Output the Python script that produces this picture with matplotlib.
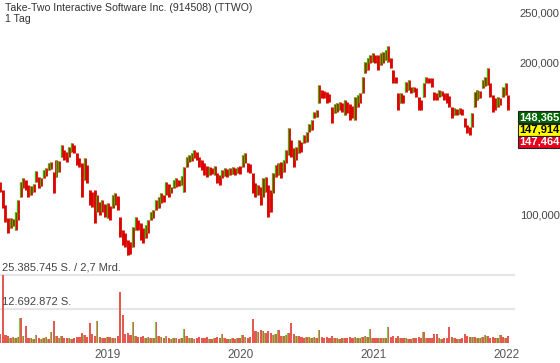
import numpy as np
import pandas as pd
import matplotlib
matplotlib.use("Agg")
import matplotlib.pyplot as plt
from matplotlib.ticker import FixedLocator, FixedFormatter, NullLocator
from matplotlib.patches import Rectangle

plt.rcParams['font.family'] = ['Liberation Sans', 'DejaVu Sans']

title = "Take-Two Interactive Software Inc. (914508) (TTWO)"
interval = "1 Tag"
week_start = "2018-03-14"

# weekly high / low (price)
high = [116.2,112.0,104.6,98.6,98.6,98.2,101.4,107.0,116.2,118.3,
        117.2,114.6,114.1,115.1,122.1,118.8,118.3,122.6,123.7,126.6,
        127.1,121.5,128.3,127.7,137.3,134.2,133.0,136.1,138.6,137.3,
        132.4,129.4,126.6,129.4,125.4,112.0,111.0,112.0,109.5,106.1,
        107.0,105.1,105.6,104.2,109.5,110.5,109.0,99.1,93.4,92.2,
        89.3,88.5,94.7,99.1,97.8,96.5,94.3,95.6,97.8,101.4,
        102.3,107.0,108.5,110.5,109.5,116.2,115.1,113.6,117.2,118.3,
        117.2,119.4,124.3,130.0,131.2,132.4,134.2,133.0,130.0,128.3,
        126.6,124.8,124.3,123.7,124.8,121.0,119.9,122.6,123.7,123.2,
        123.7,124.3,123.7,124.3,124.8,131.2,132.4,126.6,126.0,121.0,
        115.6,114.6,113.6,118.3,118.8,114.6,112.0,121.0,125.4,126.6,
        127.1,128.3,134.2,148.3,140.5,135.5,136.1,140.5,139.2,143.7,
        145.7,151.0,153.8,159.4,160.9,180.2,176.2,175.4,174.6,173.0,
        163.1,165.4,166.1,166.9,166.1,168.4,166.9,165.4,163.9,170.7,
        172.3,173.8,186.9,200.1,203.7,206.5,208.4,206.5,206.5,208.4,
        209.3,211.2,215.1,203.7,192.9,186.9,173.8,173.8,172.3,182.7,
        184.4,178.6,178.6,177.8,170.7,168.4,181.9,186.9,186.1,186.1,
        174.6,173.8,176.2,175.4,173.8,173.8,171.5,163.1,162.4,161.6,
        162.4,161.6,155.2,150.4,149.0,158.7,174.6,176.2,175.4,184.4,
        186.9,194.7,181.9,172.3,169.9,170.7,169.9,178.6,181.9,172.3]

low = [111.0,103.2,96.9,92.2,94.3,95.2,93.4,97.8,108.5,113.1,
       112.0,108.5,109.5,111.0,116.2,113.1,114.1,118.3,119.4,122.6,
       123.2,110.5,118.8,121.5,130.0,128.3,127.1,130.0,133.0,132.4,
       125.4,124.3,108.5,117.2,115.6,104.6,103.7,96.5,101.4,100.0,
       101.4,99.1,98.6,97.8,103.2,104.6,102.3,90.5,87.3,86.5,
       83.4,83.8,86.5,93.4,93.4,89.3,88.1,90.1,92.2,97.8,
       98.6,102.3,103.2,105.6,106.1,109.5,108.5,110.5,113.1,113.6,
       114.1,114.6,111.0,124.3,127.1,127.7,129.4,128.3,124.3,122.6,
       119.9,118.8,119.9,120.4,119.9,115.6,114.6,118.3,119.4,118.8,
       119.9,120.4,119.9,121.0,120.4,124.3,126.6,121.5,121.0,110.5,
       108.5,109.5,104.6,108.5,111.0,99.1,101.4,110.5,118.8,119.9,
       118.3,121.5,126.6,131.2,130.0,124.3,128.3,132.4,133.0,138.6,
       139.2,145.7,147.0,155.2,155.9,166.1,169.9,169.9,166.1,166.9,
       151.7,158.7,159.4,160.9,159.4,157.3,158.7,153.8,155.2,153.8,
       163.1,166.1,173.8,190.3,192.9,199.2,200.1,199.2,192.9,197.4,
       199.2,201.9,200.1,194.7,181.9,181.9,160.9,166.1,166.1,174.6,
       176.2,173.8,174.6,170.7,160.9,160.9,170.7,181.9,181.9,178.6,
       168.4,168.4,170.7,171.5,168.4,166.1,163.1,155.2,157.3,157.3,
       158.0,157.3,149.0,145.0,143.7,149.0,163.1,168.4,169.9,177.8,
       179.4,180.2,170.7,159.4,160.9,163.1,164.6,170.7,172.3,160.9]

# volume (million shares)
volume_m = [3.5,25.39,3.0,2.5,2.0,2.2,1.8,2.4,9.3,2.6,
            6.3,2.0,1.8,1.6,3.0,1.7,1.5,1.9,2.2,1.6,
            4.1,8.2,2.8,2.0,2.5,1.8,1.7,2.0,1.6,1.9,
            2.3,2.1,3.6,2.9,2.4,7.5,3.2,2.6,8.2,2.2,
            2.0,1.8,2.4,2.1,1.9,2.0,2.6,19.0,10.4,3.5,
            3.8,2.9,7.8,2.7,2.2,2.4,2.8,2.0,2.3,2.0,
            1.9,7.8,2.6,2.1,1.8,2.5,1.9,1.6,1.7,2.0,
            1.5,1.8,5.2,2.7,2.0,1.8,1.6,1.7,2.1,1.9,
            1.8,2.2,1.6,1.5,1.7,2.4,1.9,3.4,1.8,1.6,
            1.5,1.7,1.6,1.8,2.0,2.9,2.2,1.9,2.1,9.0,
            4.6,4.2,4.9,4.4,3.9,4.5,3.6,3.0,3.2,4.9,
            2.8,2.6,3.1,3.8,7.5,3.4,2.7,2.5,2.2,2.0,
            2.3,2.1,1.9,2.2,2.0,4.9,2.4,2.0,2.1,1.8,
            2.6,1.9,1.8,1.6,1.7,2.0,1.8,2.2,1.9,2.1,
            1.7,1.8,2.2,2.6,2.1,5.2,1.9,1.8,2.0,1.7,
            1.8,1.9,6.0,2.3,2.5,1.9,2.8,2.0,1.8,1.9,
            1.6,1.5,1.7,1.8,2.3,1.9,4.1,2.0,1.7,1.8,
            3.4,3.4,1.9,1.6,1.8,2.0,6.0,2.4,1.9,1.6,
            1.5,1.7,3.4,2.6,2.2,2.4,2.1,1.9,1.7,2.2,
            3.0,2.5,2.0,2.3,1.9,1.8,3.0,2.2,2.0,2.5]

ytick_values = [100, 200, 250]
ytick_labels = ["100,000", "200,000", "250,000"]
vol_levels = [12692872, 25385745]
vol_labels = ["12.692.872 S.", "25.385.745 S. / 2,7 Mrd."]
year_ticks = ["2019-01-01", "2020-01-01", "2021-01-01", "2022-01-01"]
year_labels = ["2019", "2020", "2021", "2022"]
quote_labels = ["148,365", "147,914", "147,464"]

high = np.array(high)
low = np.array(low)
vol = np.array(volume_m) * 1e6
dates = pd.date_range(week_start, periods=len(high), freq="7D")
mid = (high + low) / 2
up = np.r_[True, mid[1:] >= mid[:-1]]

GREEN = "#33bb00"
RED = "#dd0000"

W, H = 560, 363
fig = plt.figure(figsize=(W / 100, H / 100), dpi=100)
axw = 515 / W
ax = fig.add_axes([0, 1 - 262 / H, axw, 262 / H])
axv = fig.add_axes([0, 1 - 343 / H, axw, 81 / H], sharex=ax)

x0 = pd.Timestamp("2018-03-13")
x1 = x0 + pd.Timedelta(days=1413)
shift = pd.Timedelta(days=2.6)

# price bars: red body for every week, green stroke on rising weeks
ax.vlines(dates, low, high, colors=RED, linewidth=2.0, capstyle="butt", zorder=2)
ax.vlines(dates[up] - shift, low[up], high[up], colors=GREEN, linewidth=0.9,
          capstyle="butt", zorder=3)
ax.vlines(dates[~up] - shift, low[~up], high[~up], colors=GREEN, linewidth=0.5,
          capstyle="butt", zorder=1)
ax.set_yscale("log")
ax.set_ylim(80.8, 265.0)
ax.set_xlim(x0, x1)
ax.yaxis.tick_right()
ax.yaxis.set_major_locator(FixedLocator(ytick_values))
ax.yaxis.set_major_formatter(FixedFormatter(ytick_labels))
ax.yaxis.set_minor_locator(NullLocator())
ax.tick_params(axis="y", length=0, pad=3.5, labelsize=8, labelcolor="#444444")
ax.tick_params(axis="x", length=0, labelbottom=False)
for s in ax.spines.values():
    s.set_visible(False)
ax.patch.set_alpha(0)

# volume
for lv in vol_levels:
    axv.axhline(lv, color="#e6e6e6", linewidth=1.6, zorder=0)
axv.bar(dates, vol, width=6.0, color="#e55a50", linewidth=0, zorder=2)
axv.bar(dates[up] - shift, vol[up], width=2.6, color="#7ccf4a", linewidth=0, zorder=3)
axv.set_ylim(0, 30.24e6)
axv.set_xlim(x0, x1)
axv.set_yticks([])
for s in axv.spines.values():
    s.set_visible(False)
axv.patch.set_alpha(0)
for lv, lab in zip(vol_levels, vol_labels):
    axv.annotate(lab, xy=(0.003, lv), xycoords=("axes fraction", "data"),
                 xytext=(0, 1.5), textcoords="offset points",
                 ha="left", va="bottom", fontsize=8, color="#444444")
axv.set_xticks(pd.to_datetime(year_ticks))
axv.set_xticklabels(year_labels)
axv.tick_params(axis="x", length=0, pad=4.5, labelsize=8.5, labelcolor="#555555")

# title
fig.text(5 / W, 1 - 8 / H, title, ha="left", va="center", fontsize=7.6, color="#333333")
fig.text(5 / W, 1 - 19 / H, interval, ha="left", va="center", fontsize=7.6, color="#333333")

# quote boxes
box_specs = [("#006400", "white"), ("#ffff00", "black"), ("#e8001c", "white")]
box_top = 111
for i, (lab, (fc, tc)) in enumerate(zip(quote_labels, box_specs)):
    top = box_top + i * 12.5
    rect = Rectangle((518 / W, 1 - (top + 12) / H), 42 / W, 12 / H,
                     transform=fig.transFigure, facecolor=fc,
                     edgecolor="#222222", linewidth=0.8)
    fig.patches.append(rect)
    fig.text(539 / W, 1 - (top + 6) / H, lab, ha="center", va="center",
             fontsize=8, fontweight="bold", color=tc)

fig.savefig("out.png", dpi=100)
